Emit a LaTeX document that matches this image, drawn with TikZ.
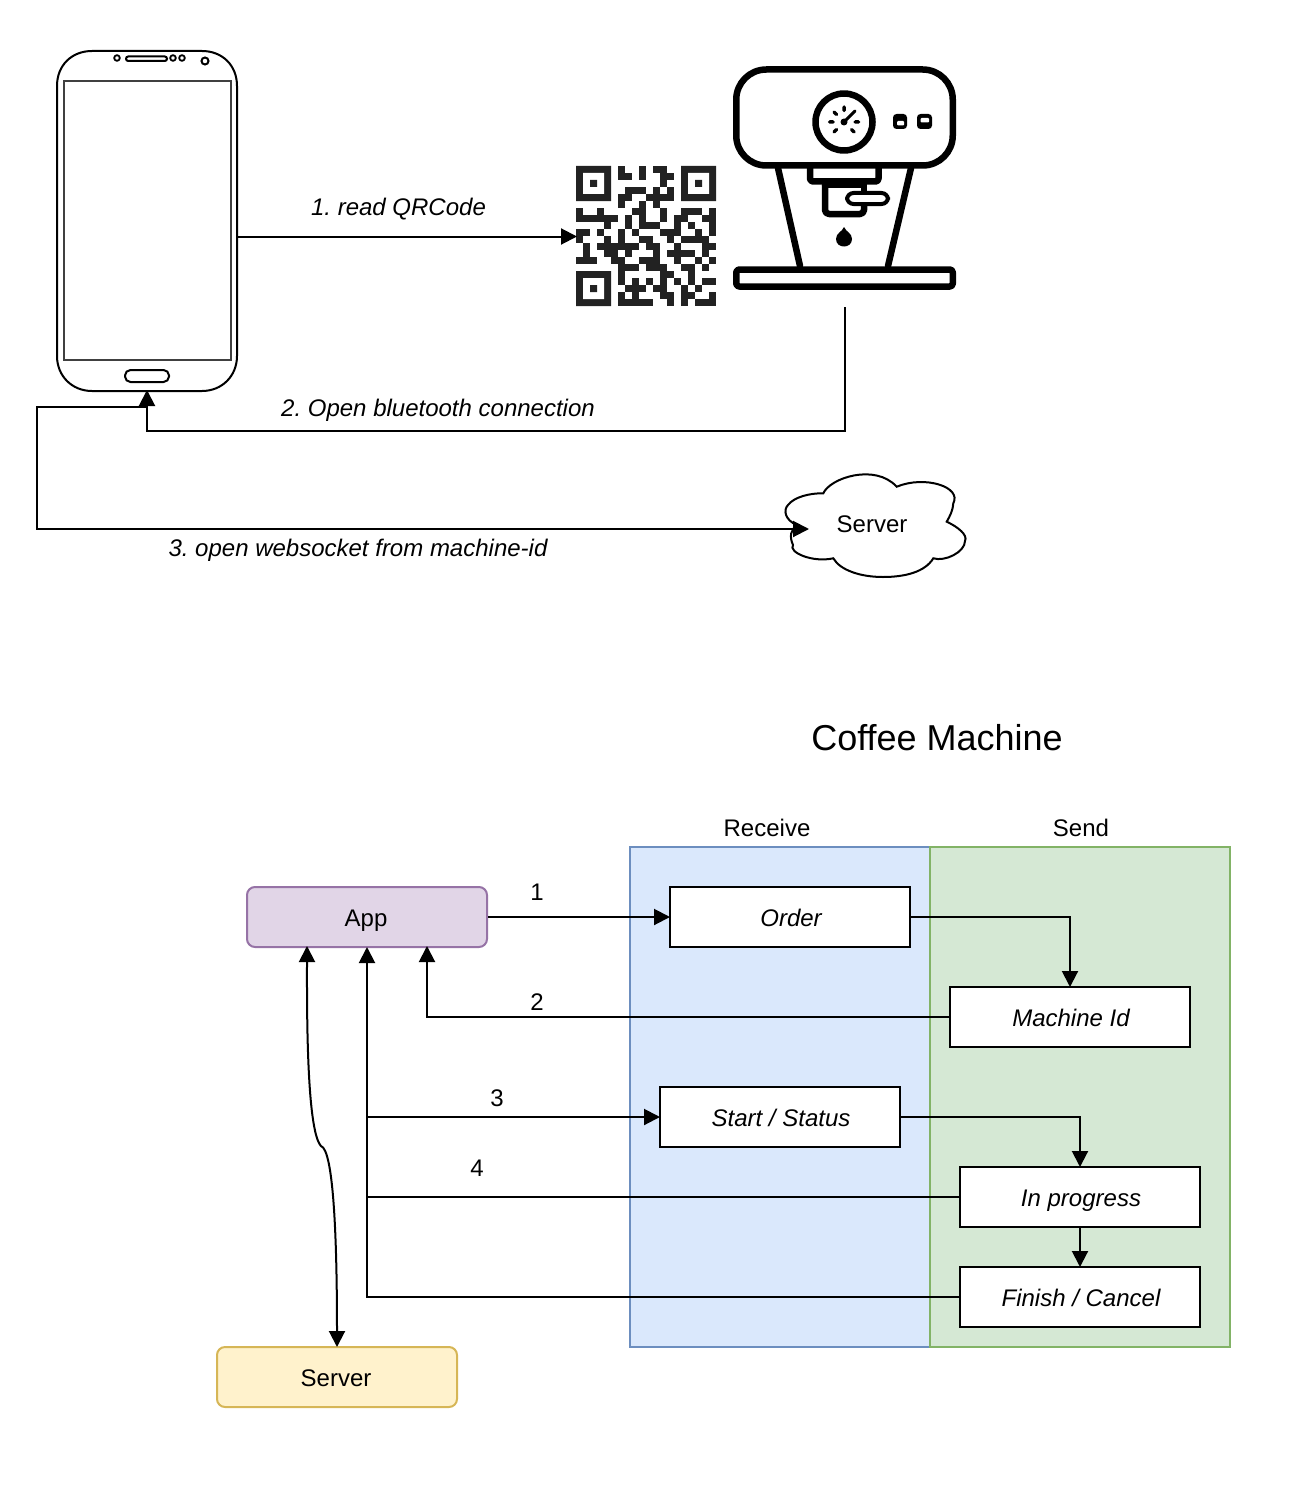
\documentclass[tikz,border=0pt]{standalone}
\usepackage{fontspec}
\setmainfont{Liberation Sans}
\frenchspacing
\usetikzlibrary{arrows.meta}
\definecolor{qrinkc}{HTML}{222222}
\definecolor{recvfill}{HTML}{DAE8FC}\definecolor{recvline}{HTML}{6C8EBF}
\definecolor{sendfill}{HTML}{D5E8D4}\definecolor{sendline}{HTML}{82B366}
\definecolor{appfill}{HTML}{E1D5E7}\definecolor{appline}{HTML}{9673A6}
\definecolor{srvfill}{HTML}{FFF2CC}\definecolor{srvline}{HTML}{D6B656}
\tikzset{
  qrink/.style={fill=qrinkc},
  conn/.style={draw=black,line width=2pt,-{Triangle[length=16pt,width=16pt]},shorten >=-1pt},
  plainconn/.style={draw=black,line width=2pt},
  fixedline/.style={text height=23pt,text depth=5pt,inner sep=0pt},
  label text/.style={fixedline,font=\fontsize{24}{28}\selectfont},
  ital text/.style={fixedline,font=\fontsize{24}{28}\selectfont\itshape},
  msgbox/.style={fixedline,draw=black,fill=white,line width=2pt,minimum width=240pt,minimum height=60pt,font=\fontsize{24}{28}\selectfont\itshape,execute at begin node=\hspace*{2pt}},
  actor/.style={fixedline,line width=2pt,rounded corners=8pt,minimum width=240pt,minimum height=60pt,font=\fontsize{24}{28}\selectfont,execute at end node=\hspace*{2pt}},
  region/.style={line width=2pt,minimum width=300pt,minimum height=500pt,inner sep=0pt},
  ghost/.style={inner sep=0pt,outer sep=0pt,draw=none},
  heavy/.style={draw=black,line width=6.5pt,line join=round},
  thinphone/.style={draw=black,line width=2pt},
}
\begin{document}
\begin{tikzpicture}[x=1pt,y=-1pt]
\useasboundingbox (0,0) rectangle (1304,1498);
% phone
\node[ghost,minimum width=180pt,minimum height=340pt] (phone) at (147,221) {};
\draw[thinphone] (57,86) .. controls (57,65) and (72,51) .. (92,51) -- (202,51) .. controls (222,51) and (237,65) .. (237,86)
  -- (237,356) .. controls (237,376) and (222,391) .. (202,391) -- (92,391) .. controls (72,391) and (57,376) .. (57,356) -- cycle;
\draw[draw=black!75,line width=2pt] (64,81) rectangle (231,360);
\draw[thinphone,rounded corners=2.2pt] (126,56.5) rectangle (167,61);
\draw[draw=black,line width=1.8pt] (117,58) circle (2.8) (173,58) circle (2.8) (182,58) circle (2.8);
\draw[thinphone] (205,61) circle (3.5);
\draw[thinphone,rounded corners=5.5pt] (125,370) rectangle (169,382);
% qr
\node[ghost,minimum width=140pt,minimum height=140pt] (qr) at (646,236.5) {};
\fill[qrink] (576,166) rectangle +(35,35) (681,166) rectangle +(35,35) (576,271) rectangle +(35,35);
\fill[white] (583,173) rectangle +(21,21) (688,173) rectangle +(21,21) (583,278) rectangle +(21,21);
\fill[qrink] (590,180) rectangle +(7,7) (695,180) rectangle +(7,7) (590,285) rectangle +(7,7);
\foreach \r/\cs in {
  0/{6,9,11,12},
  1/{6,7,9,12,13},
  2/{12},
  3/{7,8,9,11,13},
  4/{6,7,10,11,12,13},
  5/{6,9,11},
  6/{0,3,8,9,12,15,16,17,19},
  7/{0,1,2,3,4,5,7,9,12,14,15,18,19},
  8/{4,7,9,10,11,14,16,19},
  9/{0,1,3,6,8,12,13,14,17,19},
  10/{0,4,6,9,10,13,15,16,17,18},
  11/{1,3,4,5,6,7,8,10,11,14,18,19},
  12/{1,4,5,7,11,13,14,15,16,18},
  13/{0,1,2,5,6,9,10,11,14,17,19},
  14/{6,7,8,10,11,12,15,16,18},
  15/{6,12,13,16},
  16/{6,8,10,12,14,16,18,19},
  17/{7,8,9,11,12,15,17},
  18/{6,8,12,13,15,16,19},
  19/{6,7,8,9,10,13,15,17,18,19}}{
  \foreach \c in \cs {
    \fill[qrink] ({576+7*\c-0.05},{166+7*\r-0.05}) rectangle +(7.1,7.1);
  }
}
% coffee machine
\node[ghost,minimum width=223pt,minimum height=224pt] (machine) at (844.5,178) {};
\coordinate (machineout) at (845,307);
\draw[heavy,rounded corners=30pt,fill=white] (736.25,69.5) rectangle (952.75,165.5);
\draw[heavy] (844,122) circle (28.5);
\draw[draw=black,line width=3.5pt,line cap=round] (844,107) -- (844,110.5) (829.5,122) -- (833,122) (855,122) -- (858.5,122)
  (834,112) -- (836.5,114.5) (854,132) -- (851.5,129.5) (834,132) -- (836.5,129.5);
\draw[draw=black,line width=3pt,line cap=round] (844,122) -- (855,111);
\fill[black] (844,122) circle (3.5);
\fill[black,rounded corners=3.5pt] (893,114) rectangle (907,129);
\fill[white,rounded corners=1pt] (897,121) rectangle (904,125.5);
\fill[black,rounded corners=3.5pt] (917,114) rectangle (932,129);
\fill[white,rounded corners=1pt] (920.5,118) rectangle (929,122.5);
\draw[heavy,line cap=round] (778,168) -- (800,266) (911,168) -- (888,266);
\draw[heavy,rounded corners=3pt] (810,168) -- (810,181.5) -- (878.5,181.5) -- (878.5,168);
\draw[heavy,rounded corners=4pt] (825,185) -- (825,214) -- (864,214) -- (864,204);
\draw[draw=black,line width=6.5pt,line cap=round] (825,185) -- (864,185) -- (864,192);
\draw[draw=black,line width=4pt,fill=white,rounded corners=6.5pt] (847,193) rectangle (888,204);
\fill[black] (844,227) .. controls (846,232) and (852,233) .. (852,239) .. controls (852,249) and (836,249) .. (836,239) .. controls (836,233) and (842,232) .. (844,227) -- cycle;
\draw[heavy,rounded corners=3pt,fill=white] (736.25,269.5) rectangle (952.75,286.5);
% connectors top
\draw[conn] (phone.east |- qr.west) -- (qr.west);
\node[ital text] (lab1) at (398.5,206.5) {1. read QRCode};
\draw[conn] (machineout) |- (147,431) -- (phone.south);
\node[ital text] (lab2) at (438,407) {2. Open bluetooth connection};
% cloud
\node[ghost,minimum width=180pt,minimum height=104pt] (cloud) at (875,525) {};
\draw[draw=black,line width=2pt] (823.3,493.3)
  .. controls (830,478) and (875,463) .. (896.7,486.7)
  .. controls (925,475) and (962,487) .. (953.3,503.3)
  .. controls (953,510) and (950,516) .. (946.7,521.7)
  .. controls (958,527) and (968,535) .. (965,541)
  .. controls (965,552) and (945,562) .. (933.3,558.3)
  .. controls (925,572) and (905,577) .. (883,577)
  .. controls (860,577) and (840,570) .. (833.3,558.3)
  .. controls (812,563) and (788,552) .. (793,545)
  .. controls (789,536) and (791,530) .. (796.7,525)
  .. controls (785,520) and (783,510) .. (788,505)
  .. controls (794,497) and (810,493) .. (823.3,493.3) -- cycle;
\node[label text] (cloudtext) at (872,523.5) {Server};
\coordinate (wsstart) at (147,407);
\coordinate (wsend) at (808,529);
\draw[conn] (wsstart) -- (37,407) -- (37,529) -- (wsend);
\node[ital text] (lab3) at (358,547) {3. open websocket from machine-id};
% lower part
\node[font=\fontsize{36}{42}\selectfont,inner sep=0pt] (title) at (937,738) {Coffee Machine};
\node[region,draw=recvline,fill=recvfill] (recv) at (780,1097) {};
\node[region,draw=sendline,fill=sendfill] (send) at (1080,1097) {};
\node[label text] (recvlab) at (767,827.5) {Receive};
\node[label text] (sendlab) at (1081,827.5) {Send};
\node[msgbox] (order) at (790,917) {Order};
\node[msgbox] (machid) at (1070,1017) {Machine Id};
\node[msgbox] (start) at (780,1117) {Start / Status};
\node[msgbox] (inprog) at (1080,1197) {In progress};
\node[msgbox] (finish) at (1080,1297) {Finish / Cancel};
\node[actor,draw=appline,fill=appfill] (app) at (367,917) {App};
\node[actor,draw=srvline,fill=srvfill] (server) at (337,1377) {Server};
\coordinate (appleft) at (307,947);
\coordinate (appright) at (427,947);
\draw[conn] (app.east) -- (order.west);
\draw[conn] (order.east) -| (machid.north);
\draw[conn] (machid.west) -| (appright);
\draw[conn] (app.south |- start.west) -- (start.west);
\draw[conn] (start.east) -| (inprog.north);
\draw[conn] (inprog.south) -- (finish.north);
\draw[plainconn] (inprog.west) -- (inprog.west -| app.south);
\draw[conn] (finish.west) -| (app.south);
\draw[draw=black,line width=2pt,{Triangle[length=16pt,width=16pt]}-{Triangle[length=16pt,width=16pt]},shorten >=-1pt,shorten <=-1pt] (appleft)
  .. controls (307,1000) and (306,1130) .. (321,1146)
  .. controls (333,1150) and (337,1230) .. (server.north);
\node[label text] (n1) at (537,891.5) {1};
\node[label text] (n2) at (537,1001.5) {2};
\node[label text] (n3) at (497,1097.5) {3};
\node[label text] (n4) at (477,1167.5) {4};
\end{tikzpicture}
\end{document}
